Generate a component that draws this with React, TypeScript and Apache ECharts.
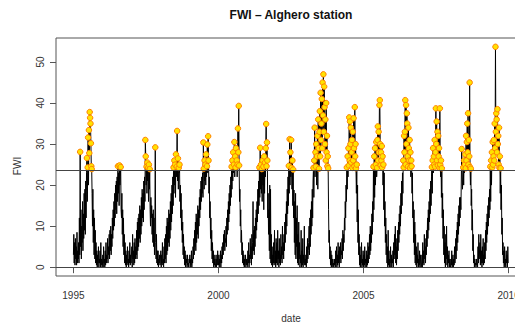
import React, { useEffect, useRef } from "react";
import * as echarts from "echarts";

const TITLE = "FWI – Alghero station";
const X_NAME = "date";
const Y_NAME = "FWI";
const THRESHOLD = 23.7;
const STEP_DAYS = 5;
const X_TICKS = [1995, 2000, 2005, 2010];
const Y_TICKS = [0, 10, 20, 30, 40, 50];
const YEARS = [1995, 1996, 1997, 1998, 1999, 2000, 2001, 2002, 2003, 2004, 2005, 2006, 2007, 2008, 2009];

// 5-day samples (73 per year)
const fwi1995 = [3, 8, 1, 6, 0.5, 7, 2, 5, 0.5, 8.5, 1, 4, 2, 6, 1, 12, 3, 28.1, 5, 14, 2, 10, 6, 16, 4, 13, 7, 18, 9, 19, 8, 21, 12, 23, 26.6, 16, 24.3, 31.6, 20, 33.4, 27.8, 37.8, 36.4, 35, 30.2, 24.6, 23.9, 18, 10, 19, 6, 14, 3, 12, 2, 9, 1, 6, 0.5, 4, 0, 3, 1, 5, 0, 2, 1, 4, 0, 6, 0.5, 2, 0];
const fwi1996 = [0.5, 3, 0, 5, 1, 2, 0, 4, 0.5, 6, 1, 3, 2, 7, 1, 5, 3, 8, 2, 9, 4, 10, 3, 8, 5, 12, 7, 14, 9, 16, 10, 18, 12, 20, 14, 21, 13, 22, 16, 24.6, 18, 23, 15, 24.8, 20, 22, 24.4, 14, 12, 18, 8, 14, 5, 12, 3, 8, 1, 6, 0.5, 4, 0, 3, 0.5, 5, 1, 2, 0, 4, 1, 6, 0.5, 3, 1];
const fwi1997 = [1, 5, 0, 8, 2, 4, 0.5, 6, 1, 7, 2, 5, 3, 9, 2, 11, 4, 12, 5, 13, 7, 15, 6, 14, 8, 17, 10, 19, 12, 18, 11, 21, 14, 22, 16, 31, 27, 20, 24.5, 18, 25.5, 21, 24.2, 16, 25, 19, 23.9, 14, 10, 17, 12, 15, 8, 13, 6, 14, 5, 12, 3, 10, 29.2, 6, 2, 8, 1, 4, 0.5, 4, 0, 2, 1, 3, 0.5];
const fwi1998 = [0.5, 4, 0, 3, 1, 6, 0.5, 2, 0, 5, 1, 7, 2, 8, 1, 10, 3, 12, 4, 11, 6, 14, 5, 13, 7, 16, 9, 18, 11, 20, 13, 22, 15, 24.3, 18, 26, 20, 25, 17, 27.5, 22, 24.5, 33.2, 21, 26.5, 19, 24.2, 23, 25, 16, 20, 12, 18, 9, 14, 6, 11, 3, 8, 2, 5, 0.5, 4, 0, 3, 1, 2, 0, 3, 0.5, 1, 0, 2];
const fwi1999 = [1, 3, 0, 2, 0.5, 4, 0, 2, 1, 5, 2, 7, 3, 9, 5, 11, 4, 13, 6, 12, 8, 15, 7, 14, 10, 17, 12, 19, 14, 21, 16, 22, 18, 23, 17, 30.4, 24, 19, 26, 21, 25, 20, 27.5, 22, 24.6, 29.9, 23, 31.9, 26, 18, 22, 12, 16, 7, 12, 4, 9, 2, 6, 1, 4, 0, 3, 0.5, 2, 0, 1, 3, 0, 2, 0.5, 4, 1];
const fwi2000 = [0.5, 3, 0, 2, 1, 4, 0, 3, 1, 5, 2, 6, 3, 8, 5, 9, 4, 7, 6, 10, 5, 12, 8, 14, 9, 16, 11, 18, 13, 20, 15, 22, 17, 24.5, 19, 26, 21, 28, 23, 25, 30.5, 22, 27, 24.3, 29, 23.5, 26, 22, 25, 33.8, 28, 39.3, 24.8, 16, 19, 10, 14, 6, 9, 3, 6, 1, 4, 0.5, 3, 0, 2, 0, 3, 1, 0.5, 2, 0];
const fwi2001 = [0.5, 4, 1, 6, 0, 3, 1, 7, 2, 5, 0.5, 8, 2, 6, 16, 4, 9, 3, 10, 5, 12, 7, 14, 9, 16, 11, 19, 13, 21, 15, 24.3, 17, 29.1, 19, 25, 18, 23.9, 16, 26, 20, 24.5, 14, 27, 18, 25.5, 22, 29, 34.9, 24.6, 30.4, 26, 12, 18, 8, 14, 4, 20, 2, 19, 1, 8, 0.5, 5, 0, 3, 1, 6, 0.5, 9, 1, 4, 0, 7];
const fwi2002 = [1, 6, 0.5, 9, 2, 4, 0, 7, 1, 3, 0.5, 8, 2, 5, 1, 10, 3, 6, 2, 8, 4, 11, 6, 13, 8, 16, 10, 19, 13, 22, 15, 24.7, 18, 31.2, 20, 28, 22, 31, 24.2, 19, 26, 15, 23.8, 12, 18.8, 6, 16, 3, 18, 2, 12, 5, 15, 1, 8, 0.5, 11, 2, 6, 0, 3, 1, 9, 0, 4, 0.5, 7, 0, 3, 1, 10, 0.5, 2];
const fwi2003 = [0.5, 3, 0, 5, 1, 7, 2, 4, 6, 10, 3, 12, 5, 14, 8, 16, 10, 19, 12, 21, 24.2, 17, 26, 34, 22, 28, 24.5, 30, 20, 27, 32, 19, 36, 29, 24, 33, 38, 27, 42.5, 31, 35, 41, 29, 45, 37, 47, 33, 44, 39, 30, 36, 26, 40, 28, 32, 24.6, 27, 24.1, 14, 6, 9, 2, 5, 0.5, 4, 0, 3, 0, 2, 0.5, 1, 0, 2];
const fwi2004 = [0.5, 2, 0, 4, 1, 5, 0, 3, 0.5, 6, 1, 4, 0, 5, 2, 6, 1, 4, 3, 7, 2, 9, 4, 8, 6, 12, 9, 16, 12, 20, 16, 24.3, 19, 27, 22, 29, 24.8, 36.5, 26, 35.5, 30, 34, 25.5, 28, 31, 24.2, 33, 26, 36.3, 29, 24.6, 39, 27, 30, 24.1, 18, 25, 11, 20, 6, 14, 3, 8, 0.5, 5, 0, 3, 1, 6, 0, 2, 0.5, 4];
const fwi2005 = [0, 3, 0.5, 5, 0, 2, 1, 4, 0, 3, 0.5, 6, 1, 5, 2, 8, 3, 10, 4, 9, 6, 13, 8, 16, 11, 24.5, 14, 27, 17, 29, 20, 25, 30.5, 22, 24.2, 31, 34.3, 26, 33, 28, 39.5, 40.7, 30, 24.8, 28, 26, 29.5, 24.3, 27, 20, 25, 14, 23, 10, 16, 6, 12, 3, 8, 1, 5, 0, 9, 0.5, 4, 0, 2, 0, 5, 1, 3, 0, 2];
const fwi2006 = [1, 4, 0, 6, 2, 8, 3, 10, 1, 7, 0.5, 5, 2, 9, 4, 11, 6, 13, 8, 15, 10, 18, 13, 21, 15, 23, 18, 26, 24.3, 32, 28, 33, 40.7, 25, 39.5, 30, 37.5, 35, 27, 24.5, 34, 29, 26, 31, 24.2, 28, 22, 26, 24.6, 18, 23, 12, 16, 6, 14, 3, 11, 1, 8, 0.5, 5, 0, 3, 1, 6, 0, 2, 0.5, 4, 0, 3, 1, 0];
const fwi2007 = [0.5, 3, 0, 6, 1, 4, 0.5, 8, 2, 5, 1, 7, 3, 9, 5, 12, 7, 14, 9, 16, 11, 19, 13, 21, 15, 22, 24.4, 18, 26, 29, 23, 27, 25, 31, 24.5, 28, 38.7, 30, 35.5, 26, 33, 24.8, 32, 27, 29, 24.2, 38.7, 25, 22, 26, 17, 24.1, 12, 18, 7, 14, 3, 10, 1, 6, 0, 8, 2, 10, 0.5, 5, 0, 3, 1, 4, 0, 2, 0.5];
const fwi2008 = [0, 2, 0.5, 4, 0, 1, 3, 0, 2, 0.5, 5, 1, 3, 7, 2, 9, 4, 11, 6, 13, 8, 15, 10, 17, 12, 17, 14, 21, 28.8, 23, 19, 22, 24.3, 20, 26, 23, 25, 27.5, 24.1, 32, 26, 30.5, 35, 28, 37.5, 25, 31, 27, 45, 24.4, 20, 24, 15, 19, 9, 14, 4, 8, 1, 3, 0, 2, 0.5, 1, 0, 2, 0.5, 1, 0, 5, 1, 8, 2];
const fwi2009 = [2, 6, 0.5, 8, 1, 4, 0, 5, 1, 7, 0.5, 3, 1, 6, 2, 9, 4, 11, 6, 13, 8, 15, 10, 17, 12, 19, 14, 24.5, 16, 26, 20, 28, 24.3, 30.5, 25, 27, 31, 26, 35, 29, 53.7, 33, 37.5, 36, 28, 38.5, 30, 32, 25, 34, 24.2, 27, 18, 24.1, 14, 20, 8, 12, 3, 6, 1, 4, 0, 5, 0.5, 2, 0, 4, 1, 3, 0, 5, 1];

const YEAR_SERIES = [fwi1995, fwi1996, fwi1997, fwi1998, fwi1999, fwi2000, fwi2001, fwi2002, fwi2003, fwi2004, fwi2005, fwi2006, fwi2007, fwi2008, fwi2009];

export default function App() {
  const ref = useRef<HTMLDivElement>(null);

  useEffect(() => {
    if (!ref.current) return;
    const chart = echarts.init(ref.current, null, { renderer: "svg" });

    const lineData: number[][] = [];
    YEARS.forEach((y, k) => {
      YEAR_SERIES[k].forEach((v, i) => {
        lineData.push([y + (i * STEP_DAYS) / 365, v]);
      });
    });
    const exceed = lineData.filter((d) => d[1] > THRESHOLD);

    const font = '"Liberation Sans", Arial, sans-serif';
    const axisColor = "#555";

    chart.setOption({
      animation: false,
      backgroundColor: "#fff",
      grid: {
        left: 56,
        top: 38,
        width: 470,
        height: 238,
        show: true,
        borderColor: axisColor,
        borderWidth: 1,
        backgroundColor: "transparent",
        containLabel: false,
        outerBoundsMode: "none",
      },
      xAxis: {
        type: "value",
        min: 1994.4,
        max: 2010.6,
        axisLine: { show: false },
        splitLine: { show: false },
        axisTick: {
          show: true,
          length: 6,
          customValues: X_TICKS,
          lineStyle: { color: axisColor },
        },
        axisLabel: {
          customValues: X_TICKS,
          formatter: (v: number) => String(Math.round(v)),
          fontSize: 10,
          fontFamily: font,
          color: "#333",
          margin: 14,
          hideOverlap: false,
        },
      },
      yAxis: {
        type: "value",
        min: -2.15,
        max: 55.85,
        axisLine: { show: false },
        splitLine: { show: false },
        axisTick: {
          show: true,
          length: 6,
          customValues: Y_TICKS,
          lineStyle: { color: axisColor },
        },
        axisLabel: {
          customValues: Y_TICKS,
          rotate: 90,
          fontSize: 10,
          fontFamily: font,
          color: "#333",
          margin: 11,
        },
      },
      series: [
        {
          type: "line",
          data: lineData,
          showSymbol: false,
          symbol: "none",
          lineStyle: { color: "#000", width: 1 },
          z: 2,
          markLine: {
            silent: true,
            symbol: "none",
            label: { show: false },
            lineStyle: { color: "#444", width: 1, type: "solid" },
            data: [{ yAxis: THRESHOLD }, { yAxis: 0 }],
          },
        },
        {
          type: "scatter",
          data: exceed,
          symbol: "circle",
          symbolSize: 5.5,
          itemStyle: { color: "#ffe200", borderColor: "#ff8000", borderWidth: 1, opacity: 1 },
          z: 3,
        },
      ],
      graphic: [
        {
          type: "text",
          x: 291,
          y: 15,
          style: {
            text: TITLE,
            font: `bold 12px ${font}`,
            fill: "#111",
            textAlign: "center",
            textVerticalAlign: "middle",
          },
        },
        {
          type: "text",
          x: 291,
          y: 318,
          style: {
            text: X_NAME,
            font: `10px ${font}`,
            fill: "#333",
            textAlign: "center",
            textVerticalAlign: "middle",
          },
        },
        {
          type: "text",
          x: 17,
          y: 166,
          rotation: Math.PI / 2,
          style: {
            text: Y_NAME,
            font: `10px ${font}`,
            fill: "#333",
            textAlign: "center",
            textVerticalAlign: "middle",
          },
        },
      ],
    });

    return () => chart.dispose();
  }, []);

  return (
    <div
      ref={ref}
      style={{ position: "fixed", left: 0, top: 0, width: 515, height: 324 }}
    />
  );
}
